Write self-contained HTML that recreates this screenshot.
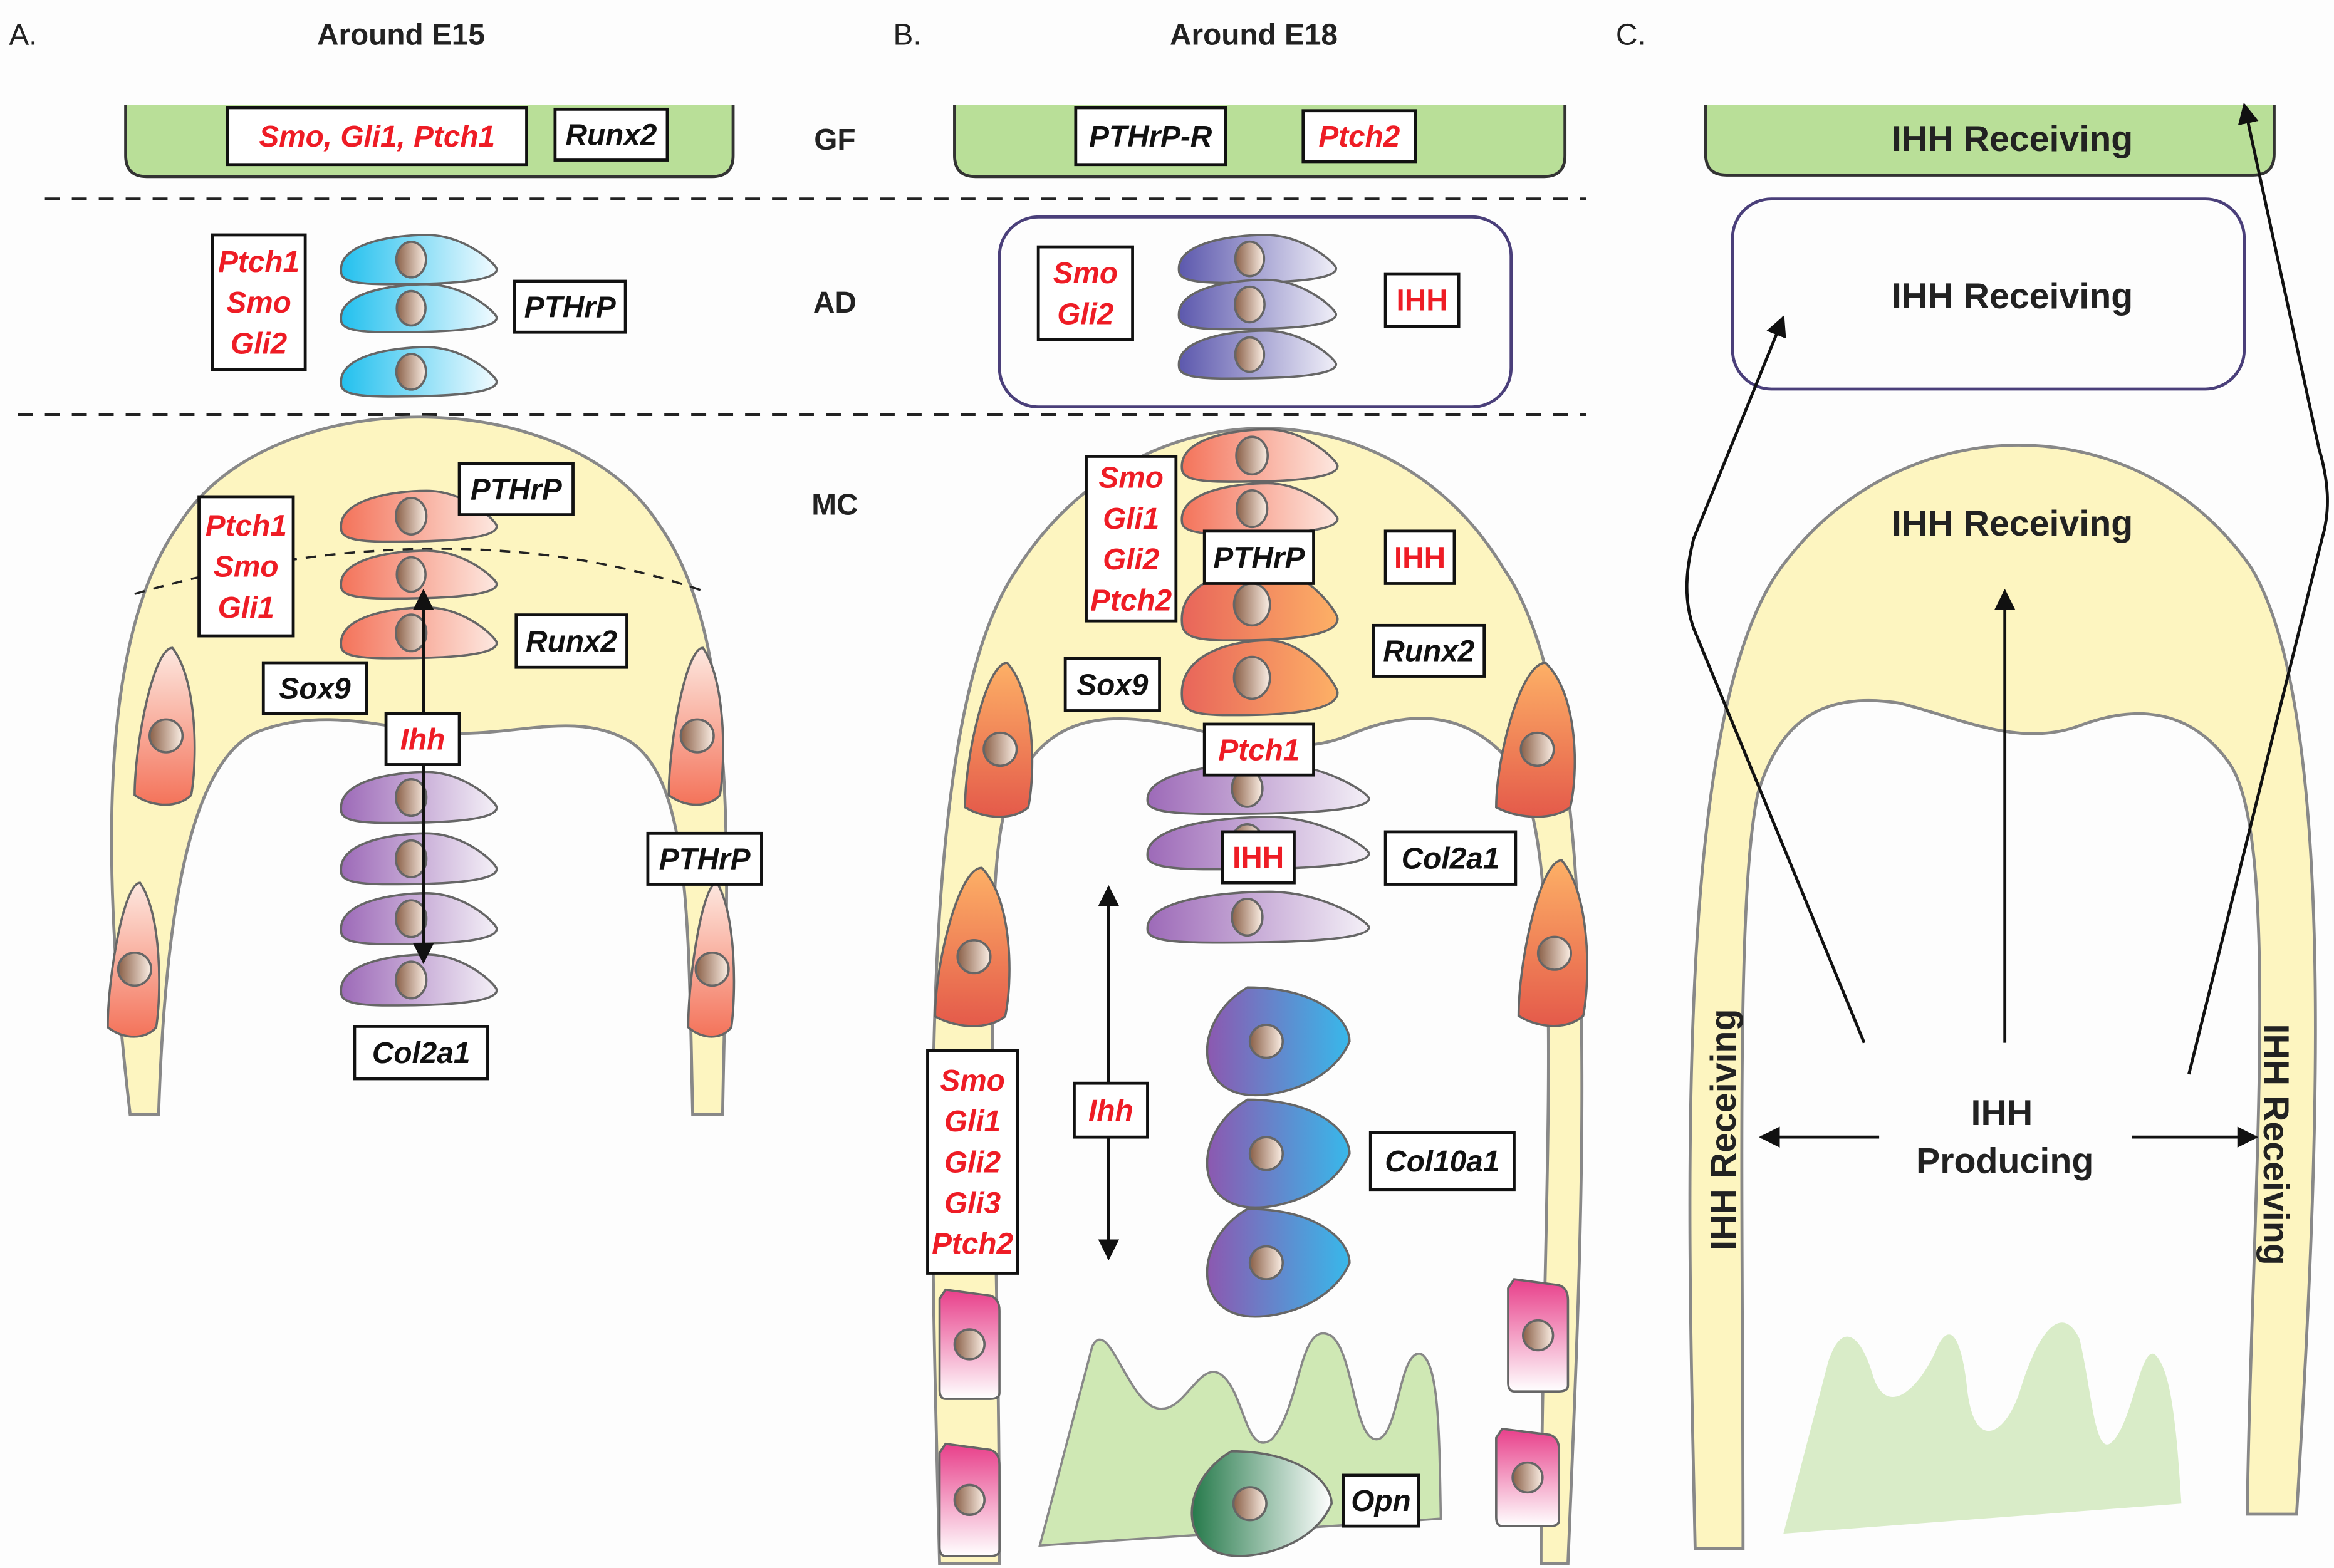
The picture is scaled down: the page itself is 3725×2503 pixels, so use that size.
<!DOCTYPE html>
<html><head><meta charset="utf-8">
<style>
html,body{margin:0;padding:0;background:#fdfdfd;}
svg{display:block;}
text{font-family:"Liberation Sans",sans-serif;}
.bt{font-weight:bold;font-style:italic;font-size:20px;text-anchor:middle;}
.up{font-style:normal;}
.r{fill:#ee1c25;}
.k{fill:#111;}
.h{font-weight:bold;font-size:20px;text-anchor:middle;fill:#222;}
.c{font-weight:bold;font-size:24px;text-anchor:middle;fill:#222;}
</style></head>
<body>
<svg id="s" width="3725" height="2503" viewBox="0 0 1560 1048" preserveAspectRatio="none" xmlns="http://www.w3.org/2000/svg">
<defs>
<linearGradient id="cy" x1="0" x2="1"><stop offset="0" stop-color="#22c0ee"/><stop offset="1" stop-color="#f2fbff"/></linearGradient>
<linearGradient id="sa" x1="0" x2="1"><stop offset="0" stop-color="#f4735a"/><stop offset="1" stop-color="#fde8e0"/></linearGradient>
<linearGradient id="pu" x1="0" x2="1"><stop offset="0" stop-color="#9d6ab8"/><stop offset="1" stop-color="#f4f0f7"/></linearGradient>
<linearGradient id="bp" x1="0" x2="1"><stop offset="0" stop-color="#5c58ad"/><stop offset="1" stop-color="#f0eff8"/></linearGradient>
<linearGradient id="or" x1="0" x2="1"><stop offset="0" stop-color="#e8655a"/><stop offset="1" stop-color="#fdb066"/></linearGradient>
<linearGradient id="ov" x1="0" x2="0" y1="0" y2="1"><stop offset="0" stop-color="#fdb066"/><stop offset="1" stop-color="#e45a4a"/></linearGradient>
<linearGradient id="sv" x1="0" x2="0" y1="0" y2="1"><stop offset="0" stop-color="#fde8e0"/><stop offset="1" stop-color="#f4735a"/></linearGradient>
<linearGradient id="hy" x1="0" x2="1"><stop offset="0" stop-color="#8c58b0"/><stop offset="1" stop-color="#38b8ea"/></linearGradient>
<linearGradient id="pk" x1="0" x2="0" y1="0" y2="1"><stop offset="0" stop-color="#e83f8a"/><stop offset="1" stop-color="#fff"/></linearGradient>
<linearGradient id="gr" x1="0" x2="1"><stop offset="0" stop-color="#267a4b"/><stop offset="1" stop-color="#fff"/></linearGradient>
<linearGradient id="nu" x1="0" x2="1"><stop offset="0" stop-color="#8a6048"/><stop offset="1" stop-color="#fbeee4"/></linearGradient>
<marker id="ah" viewBox="0 0 10 10" refX="9" refY="5" markerWidth="7" markerHeight="7" orient="auto-start-reverse"><path d="M0,0 L10,5 L0,10 Z" fill="#111"/></marker>
</defs>
<g id="g"></g>
</svg>
<script>
var S='';
function cell(x1,y1,x2,y2,f){var w=x2-x1,h=y2-y1,cy=(y1+y2)/2;
S+='<path d="M'+x1+','+(y1+h*0.75)+' C'+(x1-2)+','+(y1+h*0.15)+' '+(x1+w*0.35)+','+y1+' '+(x1+w*0.55)+','+y1+' C'+(x1+w*0.8)+','+y1+' '+x2+','+(y1+h*0.6)+' '+x2+','+(y1+h*0.7)+' C'+x2+','+y2+' '+(x1+w*0.5)+','+y2+' '+(x1+w*0.3)+','+y2+' C'+(x1+w*0.1)+','+y2+' '+x1+','+(y2-2)+' '+x1+','+(y1+h*0.75)+' Z" fill="url(#'+f+')" stroke="#666" stroke-width="1.5"/>';
S+='<ellipse cx="'+(x1+w*0.45)+'" cy="'+cy+'" rx="'+Math.min(12,h*0.3)+'" ry="'+Math.min(14,h*0.36)+'" fill="url(#nu)" stroke="#666" stroke-width="1.5"/>';}
function vcell(x1,y1,x2,y2,f){var w=x2-x1,h=y2-y1,cx=(x1+x2)/2;
S+='<path d="M'+(x1+w*0.6)+','+y1+' C'+x2+','+(y1+h*0.2)+' '+x2+','+(y1+h*0.7)+' '+(x2-w*0.1)+','+(y2-h*0.08)+' C'+(x2-w*0.3)+','+y2+' '+(x1+w*0.3)+','+y2+' '+x1+','+(y2-h*0.08)+' C'+x1+','+(y1+h*0.6)+' '+(x1+w*0.3)+','+y1+' '+(x1+w*0.6)+','+y1+' Z" fill="url(#'+f+')" stroke="#666" stroke-width="1.5"/>';
S+='<circle cx="'+cx+'" cy="'+(y1+h*0.55)+'" r="11" fill="url(#nu)" stroke="#666" stroke-width="1.5"/>';}
function pcell(x1,y1,x2,y2){S+='<path d="M'+(x1+4)+','+y1+' L'+(x2-6)+','+(y1+4)+' Q'+x2+','+(y1+6)+' '+x2+','+(y1+14)+' L'+x2+','+(y2-4)+' Q'+x2+','+y2+' '+(x2-6)+','+y2+' L'+(x1+4)+','+y2+' Q'+x1+','+y2+' '+x1+','+(y2-6)+' L'+x1+','+(y1+6)+' Z" fill="url(#pk)" stroke="#666" stroke-width="1.5"/><circle cx="'+(x1+x2)/2+'" cy="'+(y1+y2)/2+'" r="10" fill="url(#nu)" stroke="#666" stroke-width="1.5"/>';}
function tear(x1,y1,x2,y2,f){var w=x2-x1,h=y2-y1;
S+='<path d="M'+(x1+w*0.35)+','+y1+' C'+(x1+w*0.8)+','+y1+' '+x2+','+(y1+h*0.3)+' '+x2+','+(y1+h*0.5)+' C'+(x2-w*0.1)+','+(y1+h*0.85)+' '+(x1+w*0.6)+','+y2+' '+(x1+w*0.4)+','+y2+' C'+x1+','+y2+' '+x1+','+(y1+h*0.3)+' '+(x1+w*0.35)+','+y1+' Z" fill="url(#'+f+')" stroke="#666" stroke-width="1.5"/><circle cx="'+(x1+w*0.47)+'" cy="'+(y1+h*0.5)+'" r="11" fill="url(#nu)" stroke="#666" stroke-width="1.5"/>';}
function box(x1,y1,x2,y2,lines,cls){S+='<rect x="'+x1+'" y="'+y1+'" width="'+(x2-x1)+'" height="'+(y2-y1)+'" fill="#fff" stroke="#111" stroke-width="2"/>';
var n=lines.length,lh=27.3,cy=(y1+y2)/2-(n-1)*lh/2;
for(var i=0;i<n;i++)S+='<text class="bt '+cls+'" x="'+(x1+x2)/2+'" y="'+(cy+i*lh+7)+'">'+lines[i]+'</text>';}
function t(x,y,s,c,a){S+='<text class="'+c+'" x="'+x+'" y="'+y+'"'+(a?' '+a:'')+'>'+s+'</text>';}
function p(d,f,st,sw,ex){S+='<path d="'+d+'" fill="'+f+'" stroke="'+st+'" stroke-width="'+(sw||1.5)+'"'+(ex||'')+'/>';}
function bar(x1,y1,x2,y2){p('M'+x1+','+y1+' L'+x1+','+(y2-14)+' Q'+x1+','+y2+' '+(x1+14)+','+y2+' L'+(x2-14)+','+y2+' Q'+x2+','+y2+' '+x2+','+(y2-14)+' L'+x2+','+y1,'#b9df98','#333',2);}

S+='<text x="6" y="30" font-size="20" fill="#222">A.</text><text x="597" y="30" font-size="20" fill="#222">B.</text><text x="1080" y="30" font-size="20" fill="#222">C.</text>';
t(268,30,'Around E15','h');t(838,30,'Around E18','h');
t(558,100,'GF','h');t(558,209,'AD','h');t(558,344,'MC','h');
p('M30,133 L1060,133','none','#222',2,' stroke-dasharray="10,8"');
p('M12,277 L1060,277','none','#222',2,' stroke-dasharray="10,8"');

bar(84,70,490,118);
box(152,72,352,110,['Smo, Gli1, Ptch1'],'r');box(371,73,446,107,['Runx2'],'k');
cell(228,157,332,190,'cy');cell(228,190,332,222,'cy');cell(228,232,332,265,'cy');
box(142,157,204,247,['Ptch1','Smo','Gli2'],'r');box(344,188,418,222,['PTHrP'],'k');
p('M87,745 C70,600 62,430 120,350 C180,255 380,255 440,350 C498,430 485,600 483,745 L463,745 C460,620 462,520 420,495 C385,475 345,492 300,490 C260,488 220,472 175,488 C125,505 110,620 106,745 Z','#fdf5c0','#888',2);
p('M90,397 C200,365 340,350 470,395','none','#222',1.5,' stroke-dasharray="7,6"');
cell(228,328,332,362,'sa');cell(228,368,332,400,'sa');cell(228,406,332,440,'sa');
cell(228,516,332,550,'pu');cell(228,557,332,591,'pu');cell(228,597,332,631,'pu');cell(228,638,332,672,'pu');
vcell(90,433,132,540,'sv');vcell(72,590,108,695,'sv');vcell(447,433,485,540,'sv');vcell(460,590,492,695,'sv');
p('M283,643 L283,395','none','#111',2,' marker-end="url(#ah)" marker-start="url(#ah)"');
box(133,332,196,425,['Ptch1','Smo','Gli1'],'r');box(307,310,383,344,['PTHrP'],'k');box(345,411,419,446,['Runx2'],'k');
box(176,443,245,477,['Sox9'],'k');box(258,477,307,511,['Ihh'],'r');box(433,557,509,591,['PTHrP'],'k');box(237,686,326,721,['Col2a1'],'k');

bar(638,70,1046,118);
box(719,72,819,110,['PTHrP-R'],'k');box(871,74,946,108,['Ptch2'],'r');
S+='<rect x="668" y="145" width="342" height="127" rx="26" fill="none" stroke="#4a3f7a" stroke-width="2"/>';
cell(788,157,893,189,'bp');cell(788,187,893,220,'bp');cell(788,221,893,253,'bp');
box(694,165,757,227,['Smo','Gli2'],'r');box(926,183,975,218,['IHH'],'r up');
p('M628,1045 C622,800 610,480 680,380 C760,255 930,255 1005,380 C1075,480 1058,800 1048,1045 L1030,1045 C1030,800 1050,560 1010,510 C985,480 950,470 900,492 C860,508 820,490 770,482 C720,475 690,490 672,540 C655,600 668,800 668,1045 Z','#fdf5c0','#888',2);
cell(790,287,894,322,'sa');cell(790,323,894,357,'sa');cell(790,380,894,428,'or');cell(790,428,894,478,'or');
cell(767,510,915,544,'pu');cell(767,546,915,581,'pu');cell(767,596,915,630,'pu');
vcell(645,443,692,548,'ov');vcell(625,580,677,688,'ov');vcell(1000,443,1055,548,'ov');vcell(1015,575,1063,688,'ov');
pcell(628,862,668,935);pcell(628,965,668,1040);pcell(1008,855,1048,930);pcell(1000,955,1042,1020);
tear(797,660,902,732,'hy');tear(797,735,902,807,'hy');tear(797,808,902,880,'hy');
p('M695,1033 L730,900 C740,880 752,930 770,940 C790,950 800,910 815,918 C832,928 832,975 850,962 C870,940 868,880 890,893 C905,905 905,962 920,962 C935,962 935,900 950,905 C962,912 962,960 963,1015 Z','#cfe8b4','#888',1.5);
tear(787,970,890,1040,'gr');
p('M741,841 L741,593','none','#111',2,' marker-end="url(#ah)" marker-start="url(#ah)"');
box(726,305,786,415,['Smo','Gli1','Gli2','Ptch2'],'r');box(805,355,878,390,['PTHrP'],'k');box(926,355,972,390,['IHH'],'r up');
box(918,418,992,452,['Runx2'],'k');box(712,440,775,475,['Sox9'],'k');box(805,484,878,518,['Ptch1'],'r');
box(817,556,865,590,['IHH'],'r up');box(926,556,1013,591,['Col2a1'],'k');box(718,724,767,760,['Ihh'],'r');
box(916,757,1012,795,['Col10a1'],'k');box(620,702,680,851,['Smo','Gli1','Gli2','Gli3','Ptch2'],'r');box(898,986,948,1020,['Opn'],'k');

bar(1140,70,1520,117);t(1345,101,'IHH Receiving','c');
S+='<rect x="1158" y="133" width="342" height="127" rx="26" fill="none" stroke="#4a3f7a" stroke-width="2"/>';t(1345,206,'IHH Receiving','c');
p('M1133,1035 C1128,800 1118,480 1190,380 C1270,270 1430,270 1505,380 C1565,480 1548,800 1535,1012 L1502,1012 C1505,800 1525,560 1490,510 C1465,475 1430,470 1390,485 C1350,500 1310,480 1270,470 C1220,462 1190,480 1175,530 C1160,600 1165,800 1165,1035 Z','#fdf5c0','#888',2);
t(1345,358,'IHH Receiving','c');
p('M1192,1025 L1222,910 C1232,880 1245,895 1252,920 C1262,950 1285,925 1295,900 C1305,880 1312,900 1315,930 C1320,970 1340,960 1350,930 C1362,890 1378,870 1390,895 C1398,930 1400,970 1410,965 C1425,955 1430,900 1440,905 C1452,915 1455,960 1458,1005 Z','#d9ecc8','none');
t(1338,752,'IHH','c');t(1340,784,'Producing','c');
S+='<text class="c" transform="translate(1160,755) rotate(-90)" x="0" y="0">IHH Receiving</text>';
S+='<text class="c" transform="translate(1513,765) rotate(90)" x="0" y="0">IHH Receiving</text>';
p('M1256,760 L1177,760','none','#111',2,' marker-end="url(#ah)"');
p('M1425,760 L1508,760','none','#111',2,' marker-end="url(#ah)"');
p('M1340,697 L1340,395','none','#111',2,' marker-end="url(#ah)"');
p('M1246,697 L1132,420 C1125,400 1127,380 1132,360 L1192,212','none','#111',2,' marker-end="url(#ah)"');
p('M1463,718 L1552,360 C1558,340 1556,320 1550,300 L1500,70','none','#111',2,' marker-end="url(#ah)"');

document.getElementById('g').innerHTML=S;
</script>
</body></html>
